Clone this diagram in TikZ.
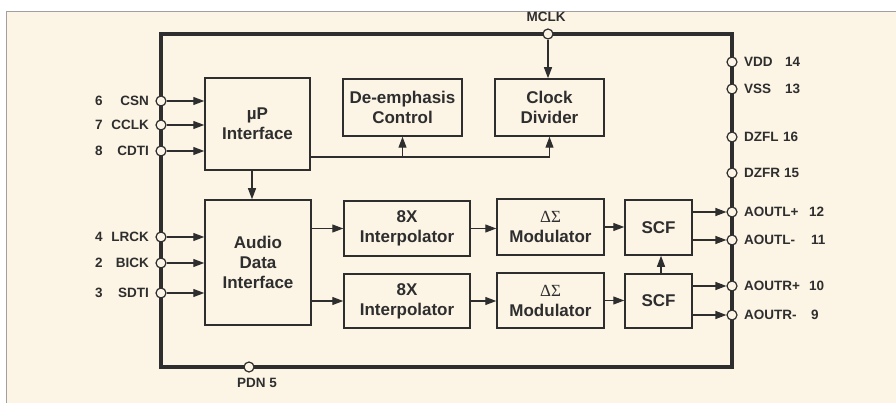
\documentclass[tikz,border=0pt]{standalone}
\usepackage{fontspec}
\setmainfont{Liberation Sans}
\newfontfamily\greekserif{Liberation Serif}
\usetikzlibrary{arrows.meta,calc}
\definecolor{bgc}{HTML}{FCF5E6}
\definecolor{ink}{HTML}{2E2E2E}
\definecolor{frm}{HTML}{A0A0A0}
\begin{document}
\begin{tikzpicture}[x=1pt,y=-1pt,
  blk/.style={draw=ink, line width=1.5pt, text=ink, align=center, inner sep=0pt,
    font=\fontsize{17}{20}\selectfont\bfseries},
  pinc/.style={circle, draw=ink, fill=bgc, line width=1.2pt, inner sep=0pt, minimum size=10pt},
  arr/.style={draw=ink, line width=1.2pt, -{Triangle[length=11pt,width=8pt]}},
  wire/.style={draw=ink, line width=1.2pt},
  plab/.style={text=ink, inner sep=0pt, font=\fontsize{13.5}{15}\selectfont\bfseries}]
\useasboundingbox (0,0) rectangle (896,403);
\fill[white] (0,0) rectangle (896,403);
\fill[bgc] (7,12) rectangle (896,403);
\draw[frm, line width=1.2pt] (6.6,403) -- (6.6,11.6) -- (896,11.6);
% chip outline
\draw[ink, line width=3.2pt] (161,34) rectangle (732,367);
% blocks
\node[blk, minimum width=105pt, minimum height=92pt] (up) at (257.5,124) {µP\\Interface};
\node[blk, minimum width=119pt, minimum height=57pt] (de) at (402.5,107.5) {De-emphasis\\Control};
\node[blk, minimum width=109pt, minimum height=57pt] (cd) at (549.5,107.5) {Clock\\Divider};
\node[blk, minimum width=106pt, minimum height=125pt] (adi) at (258,262.5) {Audio\\Data\\Interface};
\node[blk, minimum width=126pt, minimum height=55pt] (i1) at (407,228.5) {8X\\Interpolator};
\node[blk, minimum width=126pt, minimum height=54pt] (i2) at (407,301) {8X\\Interpolator};
\node[blk, minimum width=107pt, minimum height=56pt] (m1) at (550.5,227) {{\greekserif\fontsize{17}{18}\mdseries\selectfont ΔΣ}\\Modulator};
\node[blk, minimum width=107pt, minimum height=55pt] (m2) at (550.5,300.5) {{\greekserif\fontsize{17}{18}\mdseries\selectfont ΔΣ}\\Modulator};
\node[blk, minimum width=67pt, minimum height=55pt] (s1) at (658.5,227.5) {SCF};
\node[blk, minimum width=67pt, minimum height=54pt] (s2) at (658.5,301) {SCF};
% left pins
\foreach \n/\y/\num/\lab in {csn/101/6/CSN, cclk/125/7/CCLK, cdti/151/8/CDTI, lrck/237/4/LRCK, bick/263/2/BICK, sdti/293/3/SDTI}{
  \node[plab, anchor=east] (l\n) at (149,\y) {\lab};
  \node[plab, anchor=west] (n\n) at (95,\y) {\num};
}
% right pins
\foreach \n/\y/\num/\lab/\nx in {vdd/62/14/VDD/785, vss/89/13/VSS/785, dzfl/137/16/DZFL/783, dzfr/173/15/DZFR/784,
  aolp/212/12/AOUTL+/809, aolm/240/11/AOUTL-/811, aorp/286/10/AOUTR+/809, aorm/315/9/AOUTR-/811}{
  \node[plab, anchor=west] (l\n) at (744,\y) {\lab};
  \node[plab, anchor=west] (n\n) at (\nx,\y) {\num};
}
\foreach \n/\y in {csn/101, cclk/125, cdti/151, lrck/237, bick/263, sdti/293}{
  \node[pinc] (p\n) at (161,\y) {};
}
\foreach \n/\y in {vdd/62, vss/89, dzfl/137, dzfr/173, aolp/212, aolm/240, aorp/286, aorm/315}{
  \node[pinc] (p\n) at (732,\y) {};
}
\foreach \n in {csn,cclk,cdti}{ \draw[arr] (p\n) -- (p\n -| up.west); }
\foreach \n in {lrck,bick,sdti}{ \draw[arr] (p\n) -- (p\n -| adi.west); }
\draw[arr] (s1.east |- paolp) -- (paolp.west);
\draw[arr] (s1.east |- paolm) -- (paolm.west);
\draw[arr] (s2.east |- paorp) -- (paorp.west);
\draw[arr] (s2.east |- paorm) -- (paorm.west);
% MCLK and PDN
\node[pinc] (pmclk) at (548,34) {};
\node[plab] (lmclk) at (546,17) {MCLK};
\draw[arr] (pmclk) -- (pmclk |- cd.north);
\node[pinc] (ppdn) at (249,367) {};
\node[plab] (lpdn) at (257,383) {PDN 5};
% internal connections
\coordinate (ctl) at ($(up.east)+(0,33)$);
\draw[wire] (ctl) -- (ctl -| cd.south);
\draw[arr] (ctl -| cd.south) -- (cd.south);
\draw[arr] (ctl -| de.south) -- (de.south);
\coordinate (ua) at ($(up.south)+(-5.5,0)$);
\draw[arr] (ua) -- (ua |- adi.north);
\draw[arr] (adi.east |- i1) -- (i1.west);
\draw[arr] (adi.east |- i2) -- (i2.west);
\draw[arr] (i1.east) -- (i1.east -| m1.west);
\draw[arr] (i2.east) -- (i2.east -| m2.west);
\draw[arr] (m1.east) -- (m1.east -| s1.west);
\draw[arr] (m2.east) -- (m2.east -| s2.west);
\draw[arr] ($(s2.north)+(2.5,0)$) -- ($(s1.south)+(2.5,0)$);
\end{tikzpicture}
\end{document}
